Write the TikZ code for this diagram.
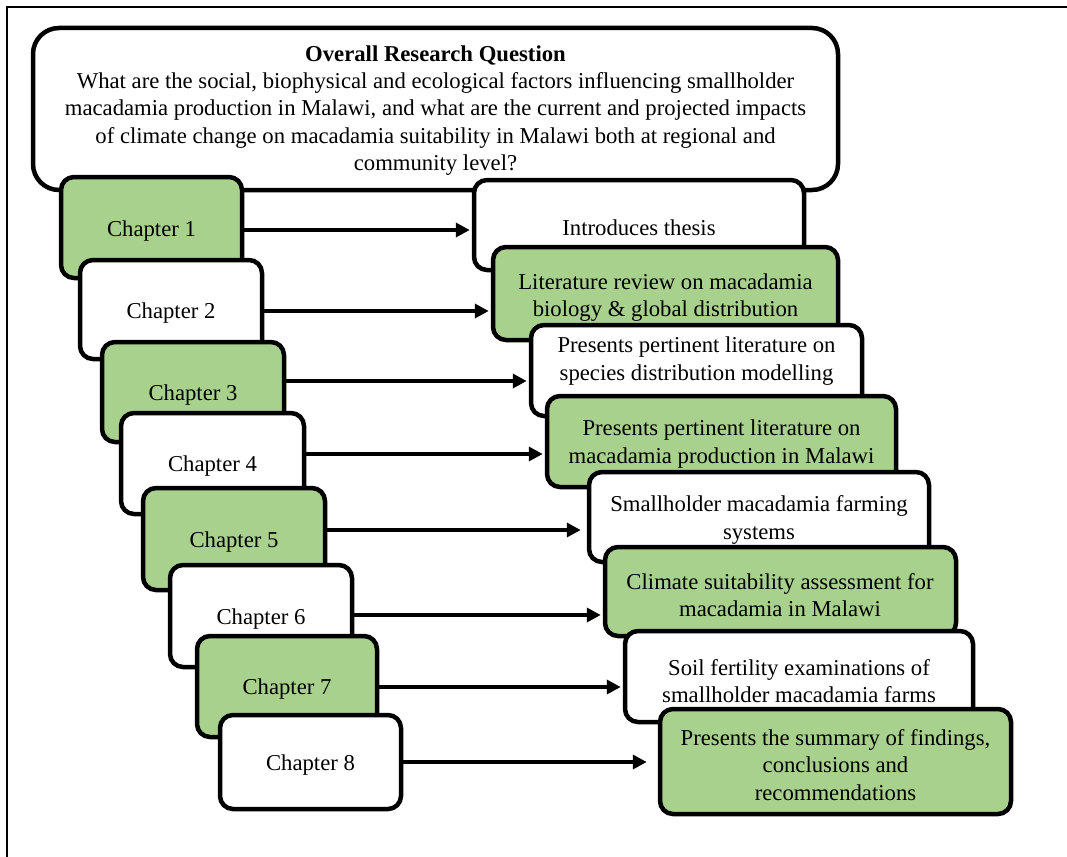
\documentclass[tikz,border=0pt]{standalone}
\usepackage{fontspec}
\setmainfont{Liberation Serif}
\usetikzlibrary{arrows.meta}
\definecolor{boxgreen}{HTML}{A9D18E}
\tikzset{
  every node/.style={font=\fontsize{22.7}{27.3}\selectfont},
  box/.style={draw=black, line width=4.5pt, rounded corners=13pt, inner sep=0pt, fill=white},
  gbox/.style={box, fill=boxgreen},
  mainbox/.style={box, rounded corners=26pt},
  txt/.style={align=center, inner sep=0pt, yshift=-2pt},
  arr/.style={line width=4.5pt, -{Triangle[length=14pt,width=14pt]}, shorten >=2pt},
  frame/.style={line width=2.5pt}
}
\newcommand{\bx}[6]{% style, name, x1, y1, x2, y2
  \node[#1, minimum width=#5-#3, minimum height=#6-#4] (#2) at ({(#3+#5)/2},{(#4+#6)/2}) {};}
\begin{document}
\begin{tikzpicture}[x=1pt,y=-1pt]
\useasboundingbox (0,0) rectangle (1067,856);
\fill[white] (0,0) rectangle (1067,856);
% frame
\coordinate (ftl) at (7,7);
\coordinate (ftr) at (1070,7);
\coordinate (fbl) at (7,860);
\draw[frame] (ftr) -- (ftl) -- (fbl);
% main question
\bx{mainbox}{q}{33}{28}{838}{190}
\node[txt] (qt) at (435.5,108.5) {\textbf{Overall Research Question}\\
What are the social, biophysical and ecological factors influencing smallholder\\
macadamia production in Malawi, and what are the current and projected impacts\\
of climate change on macadamia suitability in Malawi both at regional and\\
community level?};
% left column
\bx{gbox}{c1}{61}{177}{242}{278}
\node[txt] (c1t) at (151.5,229) {Chapter 1};
\bx{box}{c2}{80}{260}{262}{359}
\node[txt] (c2t) at (171,311) {Chapter 2};
\bx{gbox}{c3}{102}{342}{284}{442}
\node[txt] (c3t) at (193,393) {Chapter 3};
\bx{box}{c4}{121}{413}{304}{514}
\node[txt] (c4t) at (212.5,464) {Chapter 4};
\bx{gbox}{c5}{143}{488}{325}{590}
\node[txt] (c5t) at (234,540) {Chapter 5};
\bx{box}{c6}{170}{565}{352}{667}
\node[txt] (c6t) at (261,617) {Chapter 6};
\bx{gbox}{c7}{197}{636}{377}{737}
\node[txt] (c7t) at (287,687) {Chapter 7};
\bx{box}{c8}{220}{715}{401}{809}
\node[txt] (c8t) at (310.5,763) {Chapter 8};
% right column
\bx{box}{r1}{474}{180}{804}{270}
\node[txt] (r1t) at (639,226) {Introduces thesis};
\bx{gbox}{r2}{493}{247}{838}{340}
\node[txt] (r2t) at (665.5,295.5) {Literature review on macadamia\\biology \& global distribution};
\bx{box}{r3}{531}{325}{862}{416}
\node[txt] (r3t) at (696.5,359) {Presents pertinent literature on\\species distribution modelling};
\bx{gbox}{r4}{547}{396}{896}{487}
\node[txt] (r4t) at (721.5,442) {Presents pertinent literature on\\macadamia production in Malawi};
\bx{box}{r5}{589}{472}{929}{562}
\node[txt] (r5t) at (759,518) {Smallholder macadamia farming\\systems};
\bx{gbox}{r6}{605}{547}{956}{636}
\node[txt] (r6t) at (780,593) {Climate suitability assessment for\\macadamia in Malawi};
\bx{box}{r7}{625}{631}{973}{722}
\node[txt] (r7t) at (799,679) {Soil fertility examinations of\\smallholder macadamia farms};
\bx{gbox}{r8}{660}{709}{1011}{814}
\node[txt] (r8t) at (835.5,763) {Presents the summary of findings,\\conclusions and\\recommendations};
% arrow levels
\coordinate (a1) at (0,230);
\coordinate (a2) at (0,311);
\coordinate (a3) at (0,381);
\coordinate (a4) at (0,454);
\coordinate (a5) at (0,530);
\coordinate (a6) at (0,615);
\coordinate (a7) at (0,687);
\coordinate (a8) at (0,762);
\draw[arr] (c1.east |- a1) -- (r1.west |- a1);
\draw[arr] (c2.east |- a2) -- (r2.west |- a2);
\draw[arr] (c3.east |- a3) -- (r3.west |- a3);
\draw[arr] (c4.east |- a4) -- (r4.west |- a4);
\draw[arr, shorten >=6pt] (c5.east |- a5) -- (r5.west |- a5);
\draw[arr] (c6.east |- a6) -- (r6.west |- a6);
\draw[arr] (c7.east |- a7) -- (r7.west |- a7);
\draw[arr, shorten >=11pt] (c8.east |- a8) -- (r8.west |- a8);
\end{tikzpicture}
\end{document}
